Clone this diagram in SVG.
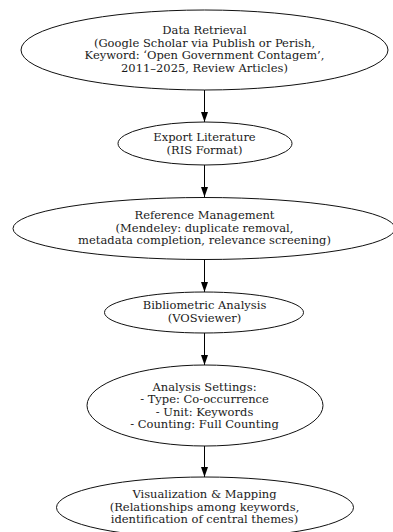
<svg xmlns="http://www.w3.org/2000/svg" width="393" height="532" viewBox="0 0 393 532">
<style>
.n ellipse{fill:#fff;stroke:#111;stroke-width:1}
.n text{font-family:"DejaVu Serif",serif;font-size:11.5px;fill:#1a1a1a;text-anchor:middle}
#edges line{stroke:#000;stroke-width:1}
</style>
<defs>
<marker id="ah" viewBox="0 0 10 7" refX="10" refY="3.5" markerWidth="10" markerHeight="7" markerUnits="userSpaceOnUse" orient="auto">
<path d="M0,0 L10,3.5 L0,7 Z" fill="#000"/>
</marker>
</defs>
<rect width="393" height="532" fill="#fff"/>
<g id="edges">
<line x1="204.5" y1="90" x2="204.5" y2="122" marker-end="url(#ah)"/>
<line x1="204.5" y1="165" x2="204.5" y2="197" marker-end="url(#ah)"/>
<line x1="204.5" y1="260" x2="204.5" y2="292" marker-end="url(#ah)"/>
<line x1="204.5" y1="333" x2="204.5" y2="365" marker-end="url(#ah)"/>
<line x1="204.5" y1="446" x2="204.5" y2="477" marker-end="url(#ah)"/>
</g>
<g id="n1" class="n">
<ellipse cx="204.5" cy="50" rx="183.5" ry="40"/>
<text x="204.5" y="34.2">Data Retrieval</text>
<text x="204.5" y="46.7">(Google Scholar via Publish or Perish,</text>
<text x="204.5" y="59.2">Keyword: ‘Open Government Contagem’,</text>
<text x="204.5" y="71.7">2011–2025, Review Articles)</text>
</g>
<g id="n2" class="n">
<ellipse cx="205" cy="143.5" rx="87" ry="21.5"/>
<text x="204.5" y="141">Export Literature</text>
<text x="204.5" y="153.5">(RIS Format)</text>
</g>
<g id="n3" class="n">
<ellipse cx="204" cy="228.5" rx="191" ry="31"/>
<text x="204.5" y="219">Reference Management</text>
<text x="204.5" y="231.5">(Mendeley: duplicate removal,</text>
<text x="204.5" y="244">metadata completion, relevance screening)</text>
</g>
<g id="n4" class="n">
<ellipse cx="204" cy="312.5" rx="99.5" ry="20.5"/>
<text x="204.5" y="309">Bibliometric Analysis</text>
<text x="204.5" y="321.5">(VOSviewer)</text>
</g>
<g id="n5" class="n">
<ellipse cx="205" cy="405.5" rx="118" ry="40.5"/>
<text x="204.5" y="390.5">Analysis Settings:</text>
<text x="204.5" y="403">- Type: Co-occurrence</text>
<text x="204.5" y="415.5">- Unit: Keywords</text>
<text x="204.5" y="428">- Counting: Full Counting</text>
</g>
<g id="n6" class="n">
<ellipse cx="205" cy="507.5" rx="148.5" ry="30.5"/>
<text x="204.5" y="498">Visualization &amp; Mapping</text>
<text x="204.5" y="510.5">(Relationships among keywords,</text>
<text x="204.5" y="523">identification of central themes)</text>
</g>
</svg>
